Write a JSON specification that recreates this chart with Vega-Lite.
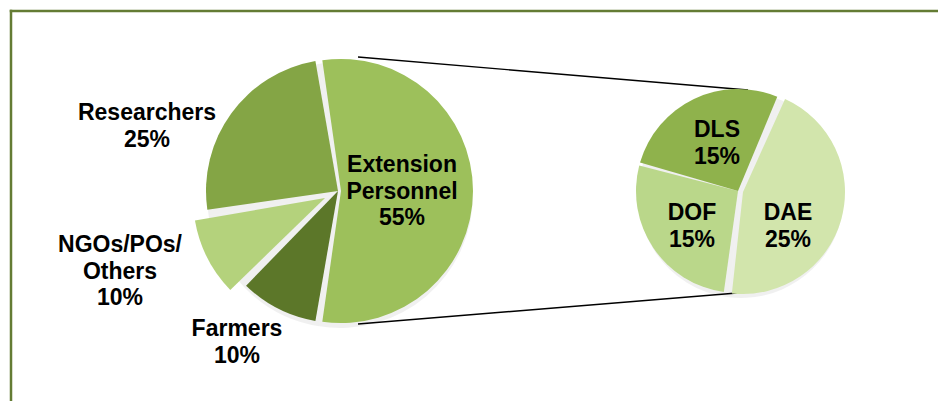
{
  "$schema": "https://vega.github.io/schema/vega-lite/v6.json",
  "width": 927,
  "height": 390,
  "autosize": {"type": "none"},
  "padding": {"left": 11, "top": 11, "right": 0, "bottom": 0},
  "background": "white",
  "config": {
    "view": {"stroke": null},
    "text": {"font": "Liberation Sans", "fontWeight": "bold", "fontSize": 23, "color": "black"}
  },
  "datasets": {
    "main": [
      {"category": "Extension Personnel", "label": "Extension\nPersonnel", "share": 55, "idx": 1},
      {"category": "Farmers", "label": "Farmers", "share": 10, "idx": 2},
      {"category": "NGOs/POs/Others", "label": "NGOs/POs/\nOthers", "share": 10, "idx": 3},
      {"category": "Researchers", "label": "Researchers", "share": 25, "idx": 4}
    ],
    "sub": [
      {"category": "DAE", "label": "DAE", "share": 25, "idx": 1},
      {"category": "DOF", "label": "DOF", "share": 15, "idx": 2},
      {"category": "DLS", "label": "DLS", "share": 15, "idx": 3}
    ]
  },
  "layer": [
    {
      "data": {"values": [{}]},
      "mark": {"type": "rule", "color": "#647c34", "strokeWidth": 2.5, "strokeCap": "square"},
      "encoding": {"y": {"value": 0}}
    },
    {
      "data": {"values": [{}]},
      "mark": {"type": "rule", "color": "#647c34", "strokeWidth": 2.5, "strokeCap": "square"},
      "encoding": {"x": {"value": 0}}
    },
    {
      "data": {"values": [{}]},
      "mark": {"type": "rule", "color": "black", "strokeWidth": 1.4, "xOffset": 20, "x2Offset": 10, "yOffset": -134, "y2Offset": -101},
      "encoding": {
        "x": {"datum": "Main", "type": "nominal", "scale": {"type": "point", "domain": ["Main", "Breakdown"], "range": [327, 727], "padding": 0}, "axis": null},
        "x2": {"datum": "Breakdown"},
        "y": {"datum": "Main", "type": "nominal", "scale": {"type": "point", "domain": ["Main", "Breakdown"], "range": [180, 180], "padding": 0}, "axis": null},
        "y2": {"datum": "Breakdown"}
      }
    },
    {
      "data": {"values": [{}]},
      "mark": {"type": "rule", "color": "black", "strokeWidth": 1.4, "xOffset": 20, "x2Offset": -1, "yOffset": 133, "y2Offset": 102},
      "encoding": {
        "x": {"datum": "Main", "type": "nominal", "scale": {"type": "point", "domain": ["Main", "Breakdown"], "range": [327, 727], "padding": 0}, "axis": null},
        "x2": {"datum": "Breakdown"},
        "y": {"datum": "Main", "type": "nominal", "scale": {"type": "point", "domain": ["Main", "Breakdown"], "range": [180, 180], "padding": 0}, "axis": null},
        "y2": {"datum": "Breakdown"}
      }
    },
    {
      "data": {"name": "main"},
      "mark": {"type": "arc", "outerRadius": 133, "color": "#000000", "opacity": 0.06, "xOffset": 2, "yOffset": 4},
      "encoding": {
        "x": {"datum": "Main", "type": "nominal", "scale": {"type": "point", "domain": ["Main", "Breakdown"], "range": [327, 727], "padding": 0}, "axis": null},
        "y": {"datum": "Main", "type": "nominal", "scale": {"type": "point", "domain": ["Main", "Breakdown"], "range": [180, 180], "padding": 0}, "axis": null},
        "theta": {"field": "share", "type": "quantitative", "stack": true, "scale": {"domain": [0, 100], "range": [-0.15708, 6.12611]}},
        "order": {"field": "idx", "type": "quantitative"}
      }
    },
    {
      "data": {"name": "sub"},
      "mark": {"type": "arc", "outerRadius": 103, "color": "#000000", "opacity": 0.06, "xOffset": 3, "yOffset": 4},
      "encoding": {
        "x": {"datum": "Breakdown", "type": "nominal", "scale": {"type": "point", "domain": ["Main", "Breakdown"], "range": [327, 727], "padding": 0}, "axis": null},
        "y": {"datum": "Breakdown", "type": "nominal", "scale": {"type": "point", "domain": ["Main", "Breakdown"], "range": [180, 180], "padding": 0}, "axis": null},
        "theta": {"field": "share", "type": "quantitative", "stack": true, "scale": {"domain": [0, 55], "range": [0.41, 6.69319]}},
        "order": {"field": "idx", "type": "quantitative"}
      }
    },
    {
      "data": {"name": "main"},
      "mark": {"type": "arc", "outerRadius": 132, "padAngle": 0.03},
      "encoding": {
        "x": {"datum": "Main", "type": "nominal", "scale": {"type": "point", "domain": ["Main", "Breakdown"], "range": [327, 727], "padding": 0}, "axis": null},
        "y": {"datum": "Main", "type": "nominal", "scale": {"type": "point", "domain": ["Main", "Breakdown"], "range": [180, 180], "padding": 0}, "axis": null},
        "theta": {"field": "share", "type": "quantitative", "stack": true, "scale": {"domain": [0, 100], "range": [-0.15708, 6.12611]}},
        "order": {"field": "idx", "type": "quantitative"},
        "color": {"field": "category", "type": "nominal", "legend": null,
          "scale": {"domain": ["Extension Personnel", "Farmers", "NGOs/POs/Others", "Researchers", "DAE", "DOF", "DLS"],
                    "range": ["#9dc05b", "#5c7729", "#b4d27c", "#84a545", "#d2e5ac", "#bad78a", "#8fb24c"]}},
        "opacity": {"condition": {"test": "datum.category === 'Farmers' || datum.category === 'Researchers'", "value": 1}, "value": 0}
      }
    },
    {
      "data": {"name": "main"},
      "mark": {"type": "arc", "outerRadius": 132, "padAngle": 0.03, "xOffset": 3},
      "encoding": {
        "x": {"datum": "Main", "type": "nominal", "scale": {"type": "point", "domain": ["Main", "Breakdown"], "range": [327, 727], "padding": 0}, "axis": null},
        "y": {"datum": "Main", "type": "nominal", "scale": {"type": "point", "domain": ["Main", "Breakdown"], "range": [180, 180], "padding": 0}, "axis": null},
        "theta": {"field": "share", "type": "quantitative", "stack": true, "scale": {"domain": [0, 100], "range": [-0.15708, 6.12611]}},
        "order": {"field": "idx", "type": "quantitative"},
        "color": {"field": "category", "type": "nominal", "legend": null},
        "opacity": {"condition": {"test": "datum.category === 'Extension Personnel'", "value": 1}, "value": 0}
      }
    },
    {
      "data": {"name": "main"},
      "mark": {"type": "arc", "outerRadius": 132, "padAngle": 0.03, "xOffset": -13, "yOffset": 7},
      "encoding": {
        "x": {"datum": "Main", "type": "nominal", "scale": {"type": "point", "domain": ["Main", "Breakdown"], "range": [327, 727], "padding": 0}, "axis": null},
        "y": {"datum": "Main", "type": "nominal", "scale": {"type": "point", "domain": ["Main", "Breakdown"], "range": [180, 180], "padding": 0}, "axis": null},
        "theta": {"field": "share", "type": "quantitative", "stack": true, "scale": {"domain": [0, 100], "range": [-0.15708, 6.12611]}},
        "order": {"field": "idx", "type": "quantitative"},
        "color": {"field": "category", "type": "nominal", "legend": null},
        "opacity": {"condition": {"test": "datum.category === 'NGOs/POs/Others'", "value": 1}, "value": 0}
      }
    },
    {
      "data": {"name": "sub"},
      "mark": {"type": "arc", "outerRadius": 102, "padAngle": 0.03},
      "encoding": {
        "x": {"datum": "Breakdown", "type": "nominal", "scale": {"type": "point", "domain": ["Main", "Breakdown"], "range": [327, 727], "padding": 0}, "axis": null},
        "y": {"datum": "Breakdown", "type": "nominal", "scale": {"type": "point", "domain": ["Main", "Breakdown"], "range": [180, 180], "padding": 0}, "axis": null},
        "theta": {"field": "share", "type": "quantitative", "stack": true, "scale": {"domain": [0, 55], "range": [0.41, 6.69319]}},
        "order": {"field": "idx", "type": "quantitative"},
        "color": {"field": "category", "type": "nominal", "legend": null},
        "opacity": {"condition": {"test": "datum.category === 'DAE'", "value": 0}, "value": 1}
      }
    },
    {
      "data": {"name": "sub"},
      "mark": {"type": "arc", "outerRadius": 102, "padAngle": 0.03, "xOffset": 5, "yOffset": 1},
      "encoding": {
        "x": {"datum": "Breakdown", "type": "nominal", "scale": {"type": "point", "domain": ["Main", "Breakdown"], "range": [327, 727], "padding": 0}, "axis": null},
        "y": {"datum": "Breakdown", "type": "nominal", "scale": {"type": "point", "domain": ["Main", "Breakdown"], "range": [180, 180], "padding": 0}, "axis": null},
        "theta": {"field": "share", "type": "quantitative", "stack": true, "scale": {"domain": [0, 55], "range": [0.41, 6.69319]}},
        "order": {"field": "idx", "type": "quantitative"},
        "color": {"field": "category", "type": "nominal", "legend": null},
        "opacity": {"condition": {"test": "datum.category === 'DAE'", "value": 1}, "value": 0}
      }
    },
    {
      "data": {"name": "main"},
      "transform": [{"filter": "datum.category === 'Researchers'"}, {"calculate": "datum.label + '\\n' + datum.share + '%'", "as": "txt"}],
      "mark": {"type": "text", "dx": -191, "dy": -78, "lineBreak": "\n", "lineHeight": 26.5, "align": "center", "baseline": "middle"},
      "encoding": {
        "x": {"datum": "Main", "type": "nominal", "scale": {"type": "point", "domain": ["Main", "Breakdown"], "range": [327, 727], "padding": 0}, "axis": null},
        "y": {"datum": "Main", "type": "nominal", "scale": {"type": "point", "domain": ["Main", "Breakdown"], "range": [180, 180], "padding": 0}, "axis": null},
        "text": {"field": "txt"}
      }
    },
    {
      "data": {"name": "main"},
      "transform": [{"filter": "datum.category === 'Extension Personnel'"}, {"calculate": "datum.label + '\\n' + datum.share + '%'", "as": "txt"}],
      "mark": {"type": "text", "dx": 64, "dy": -26, "lineBreak": "\n", "lineHeight": 26.5, "align": "center", "baseline": "middle"},
      "encoding": {
        "x": {"datum": "Main", "type": "nominal", "scale": {"type": "point", "domain": ["Main", "Breakdown"], "range": [327, 727], "padding": 0}, "axis": null},
        "y": {"datum": "Main", "type": "nominal", "scale": {"type": "point", "domain": ["Main", "Breakdown"], "range": [180, 180], "padding": 0}, "axis": null},
        "text": {"field": "txt"}
      }
    },
    {
      "data": {"name": "main"},
      "transform": [{"filter": "datum.category === 'NGOs/POs/Others'"}, {"calculate": "datum.label + '\\n' + datum.share + '%'", "as": "txt"}],
      "mark": {"type": "text", "dx": -218, "dy": 54, "lineBreak": "\n", "lineHeight": 26.5, "align": "center", "baseline": "middle"},
      "encoding": {
        "x": {"datum": "Main", "type": "nominal", "scale": {"type": "point", "domain": ["Main", "Breakdown"], "range": [327, 727], "padding": 0}, "axis": null},
        "y": {"datum": "Main", "type": "nominal", "scale": {"type": "point", "domain": ["Main", "Breakdown"], "range": [180, 180], "padding": 0}, "axis": null},
        "text": {"field": "txt"}
      }
    },
    {
      "data": {"name": "main"},
      "transform": [{"filter": "datum.category === 'Farmers'"}, {"calculate": "datum.label + '\\n' + datum.share + '%'", "as": "txt"}],
      "mark": {"type": "text", "dx": -101, "dy": 138, "lineBreak": "\n", "lineHeight": 26.5, "align": "center", "baseline": "middle"},
      "encoding": {
        "x": {"datum": "Main", "type": "nominal", "scale": {"type": "point", "domain": ["Main", "Breakdown"], "range": [327, 727], "padding": 0}, "axis": null},
        "y": {"datum": "Main", "type": "nominal", "scale": {"type": "point", "domain": ["Main", "Breakdown"], "range": [180, 180], "padding": 0}, "axis": null},
        "text": {"field": "txt"}
      }
    },
    {
      "data": {"name": "sub"},
      "transform": [{"filter": "datum.category === 'DLS'"}, {"calculate": "datum.label + '\\n' + datum.share + '%'", "as": "txt"}],
      "mark": {"type": "text", "dx": -21, "dy": -61, "lineBreak": "\n", "lineHeight": 26.5, "align": "center", "baseline": "middle"},
      "encoding": {
        "x": {"datum": "Breakdown", "type": "nominal", "scale": {"type": "point", "domain": ["Main", "Breakdown"], "range": [327, 727], "padding": 0}, "axis": null},
        "y": {"datum": "Breakdown", "type": "nominal", "scale": {"type": "point", "domain": ["Main", "Breakdown"], "range": [180, 180], "padding": 0}, "axis": null},
        "text": {"field": "txt"}
      }
    },
    {
      "data": {"name": "sub"},
      "transform": [{"filter": "datum.category === 'DOF'"}, {"calculate": "datum.label + '\\n' + datum.share + '%'", "as": "txt"}],
      "mark": {"type": "text", "dx": -46, "dy": 22, "lineBreak": "\n", "lineHeight": 26.5, "align": "center", "baseline": "middle"},
      "encoding": {
        "x": {"datum": "Breakdown", "type": "nominal", "scale": {"type": "point", "domain": ["Main", "Breakdown"], "range": [327, 727], "padding": 0}, "axis": null},
        "y": {"datum": "Breakdown", "type": "nominal", "scale": {"type": "point", "domain": ["Main", "Breakdown"], "range": [180, 180], "padding": 0}, "axis": null},
        "text": {"field": "txt"}
      }
    },
    {
      "data": {"name": "sub"},
      "transform": [{"filter": "datum.category === 'DAE'"}, {"calculate": "datum.label + '\\n' + datum.share + '%'", "as": "txt"}],
      "mark": {"type": "text", "dx": 50, "dy": 22, "lineBreak": "\n", "lineHeight": 26.5, "align": "center", "baseline": "middle"},
      "encoding": {
        "x": {"datum": "Breakdown", "type": "nominal", "scale": {"type": "point", "domain": ["Main", "Breakdown"], "range": [327, 727], "padding": 0}, "axis": null},
        "y": {"datum": "Breakdown", "type": "nominal", "scale": {"type": "point", "domain": ["Main", "Breakdown"], "range": [180, 180], "padding": 0}, "axis": null},
        "text": {"field": "txt"}
      }
    }
  ],
  "resolve": {"scale": {"theta": "independent"}}
}
